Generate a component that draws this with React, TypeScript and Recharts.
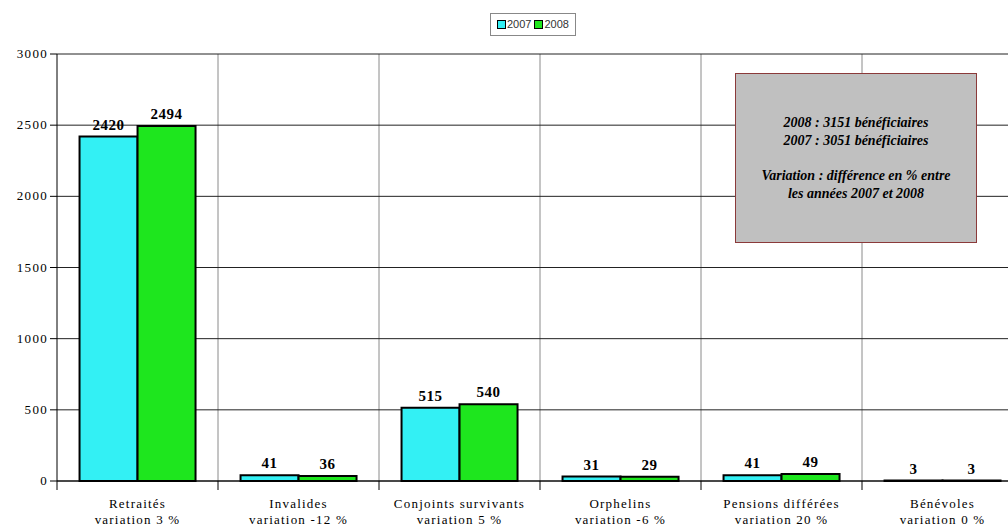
import { BarChart, Bar, XAxis, YAxis, CartesianGrid, LabelList } from 'recharts';

const categories = ['Retraités', 'Invalides', 'Conjoints survivants', 'Orphelins', 'Pensions différées', 'Bénévoles'];
const variations = ['variation 3 %', 'variation -12 %', 'variation 5 %', 'variation -6 %', 'variation 20 %', 'variation 0 %'];
const values2007 = [2420, 41, 515, 31, 41, 3];
const values2008 = [2494, 36, 540, 29, 49, 3];
const yTicks = [0, 500, 1000, 1500, 2000, 2500, 3000];

const CYAN = '#33f0f4';
const GREEN = '#1ee61e';
const SERIF = 'Liberation Serif, Times New Roman, serif';

const CHART_W = 1030;
const CHART_H = 527;
const MARGIN = { top: 54, right: 7, bottom: 0, left: 0 };
const Y_W = 57;
const X_H = 46;
const PLOT_W = CHART_W - Y_W - MARGIN.right - MARGIN.left;
const BAND = PLOT_W / categories.length;

const data = categories.map((name, i) => ({
  name,
  variation: variations[i],
  y2007: values2007[i],
  y2008: values2008[i],
}));

const labelStyle = { fontFamily: SERIF, fontSize: 15, fontWeight: 'bold', fill: '#000', letterSpacing: 0.5 };

// category tick: two-line label + small tick marks on band boundaries
function CategoryTick(props: any) {
  const { x, y, payload, index } = props;
  const left = x - BAND / 2;
  const d = data[index];
  return (
    <g>
      <line x1={left} y1={y - 8} x2={left} y2={y + 1} stroke="#000" strokeWidth={1} />
      {index === categories.length - 1 && (
        <line x1={left + BAND} y1={y - 8} x2={left + BAND} y2={y + 1} stroke="#000" strokeWidth={1} />
      )}
      <text
        x={x}
        y={y + 19}
        textAnchor="middle"
        fontFamily={SERIF}
        fontSize={13}
        fill="#000"
        letterSpacing={1.2}
        style={{ fontFamily: SERIF }}
      >
        <tspan x={x}>{payload.value}</tspan>
        <tspan x={x} dy={16}>{d ? d.variation : ''}</tspan>
      </text>
    </g>
  );
}

// y tick drawn by hand so the serif face is applied reliably
function ValueTick(props: any) {
  const { x, y, payload } = props;
  return (
    <text
      x={x}
      y={y + 4}
      textAnchor="end"
      fontFamily={SERIF}
      fontSize={13}
      fill="#000"
      letterSpacing={1.3}
      style={{ fontFamily: SERIF }}
    >
      {payload.value}
    </text>
  );
}

function LegendBox() {
  const item = (color: string, label: string) => (
    <span style={{ display: 'inline-flex', alignItems: 'center', marginRight: 3 }}>
      <span style={{ width: 7, height: 7, background: color, border: '1.5px solid #000', display: 'inline-block', marginRight: 1 }} />
      <span>{label}</span>
    </span>
  );
  return (
    <div
      style={{
        position: 'absolute',
        left: 490,
        top: 13,
        border: '1px solid #888',
        padding: '3px 3px 3px 6px',
        fontFamily: 'Liberation Sans, Arial, sans-serif',
        fontSize: 11,
        color: '#333',
        background: '#fff',
        lineHeight: '14px',
      }}
    >
      {item(CYAN, '2007')}
      {item(GREEN, '2008')}
    </div>
  );
}

export default function App() {
  const gridX = ({ offset }: any) =>
    categories.slice(1).map((_, i) => offset.left + (i + 1) * (offset.width / categories.length));

  return (
    <div style={{ position: 'absolute', left: 0, top: 0, width: 1008, height: 527, overflow: 'hidden', background: '#fff', fontFamily: SERIF }}>
      <BarChart
        width={CHART_W}
        height={CHART_H}
        data={data}
        margin={MARGIN}
        barGap={0}
        barCategoryGap="14%"
        style={{ fontFamily: SERIF }}
      >
        <CartesianGrid horizontal={false} stroke="#8a8a8a" verticalCoordinatesGenerator={gridX} />
        <CartesianGrid vertical={false} stroke="#222" />
        <XAxis
          dataKey="name"
          height={X_H}
          interval={0}
          axisLine={{ stroke: '#000' }}
          tickLine={false}
          tick={<CategoryTick />}
        />
        <YAxis
          width={Y_W}
          domain={[0, 3000]}
          ticks={yTicks}
          interval={0}
          axisLine={{ stroke: '#000' }}
          tickLine={{ stroke: '#000' }}
          tickSize={7}
          tick={<ValueTick />}
        />
        <Bar dataKey="y2007" name="2007" fill={CYAN} stroke="#000" strokeWidth={2} isAnimationActive={false}>
          <LabelList dataKey="y2007" position="top" offset={7} style={labelStyle} />
        </Bar>
        <Bar dataKey="y2008" name="2008" fill={GREEN} stroke="#000" strokeWidth={2} isAnimationActive={false}>
          <LabelList dataKey="y2008" position="top" offset={7} style={labelStyle} />
        </Bar>
      </BarChart>
      <LegendBox />
      <div
        style={{
          position: 'absolute',
          left: 735,
          top: 73,
          width: 240,
          height: 168,
          background: '#c0c0c0',
          border: '1px solid #8b3a3a',
          fontFamily: SERIF,
          fontSize: 14,
          fontWeight: 'bold',
          fontStyle: 'italic',
          color: '#000',
          textAlign: 'center',
          lineHeight: '18px',
          display: 'flex',
          flexDirection: 'column',
          justifyContent: 'center',
        }}
      >
        <div>2008 : 3151 bénéficiaires</div>
        <div>2007 : 3051 bénéficiaires</div>
        <div style={{ height: 17 }} />
        <div>Variation : différence en % entre</div>
        <div>les années 2007 et 2008</div>
      </div>
    </div>
  );
}
